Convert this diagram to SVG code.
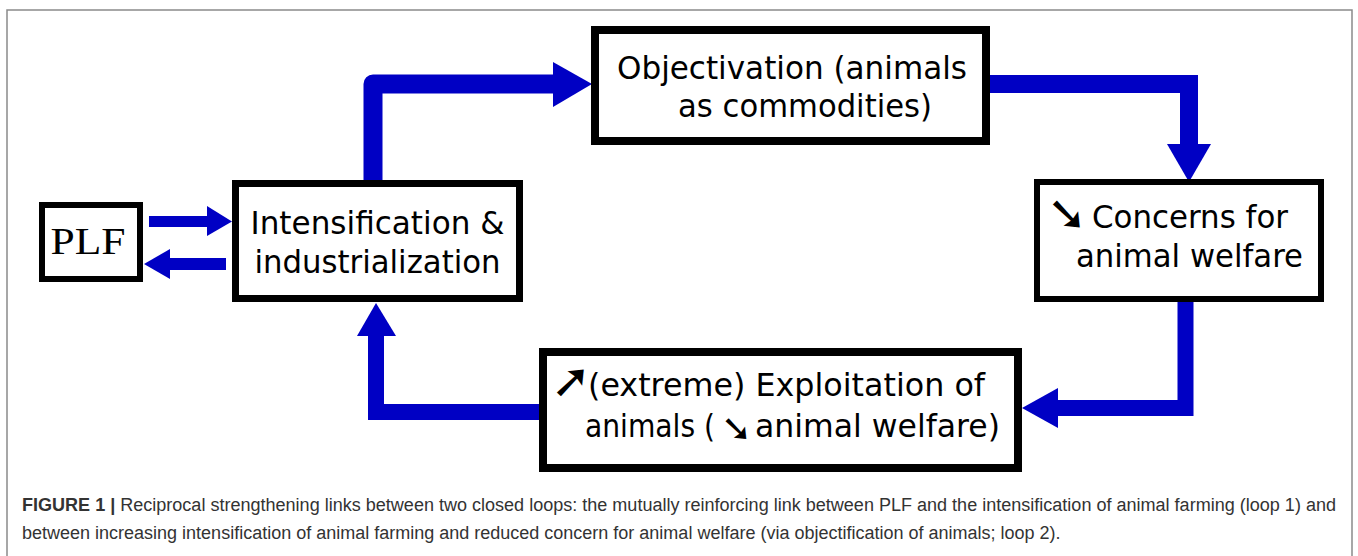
<svg xmlns="http://www.w3.org/2000/svg" width="1358" height="556" viewBox="0 0 1358 556">
<style>
.box{fill:#fff;stroke:#000;}
.t{font-family:"DejaVu Sans",sans-serif;font-size:32px;fill:#000;}
.ar{font-size:48px;}
.ar2{font-size:37px;}
.c{fill:none;stroke:#0000c4;}
.h{fill:#0000c4;}
.cap{font-family:"Liberation Sans",Arial,sans-serif;font-size:18px;fill:#333;}
</style>
<rect x="0" y="0" width="1358" height="556" fill="#fff"/>
<rect x="7" y="10" width="1345" height="620" fill="none" stroke="#8a8a8a" stroke-width="1.5"/>
<g id="connectors">
<path class="c" d="M373 180 V84 H554" stroke-width="19" stroke-linejoin="round"/>
<polygon class="h" points="553,62 592,84 553,107"/>
<path class="c" d="M990 84 H1189 V145" stroke-width="18"/>
<polygon class="h" points="1167,144 1211,144 1189,182"/>
<path class="c" d="M1185.5 302 V408 H1057" stroke-width="16"/>
<polygon class="h" points="1058,388 1058,428 1022,408"/>
<path class="c" d="M539 412 H376 V335" stroke-width="16"/>
<polygon class="h" points="357,336 396,336 376,303"/>
<path class="c" d="M149 221.5 H208" stroke-width="11"/>
<polygon class="h" points="207,206 207,236 232,221.5"/>
<path class="c" d="M226 264 H169" stroke-width="12"/>
<polygon class="h" points="170,249 170,279 144,264"/>
</g>
<g id="plf">
<rect class="box" x="42" y="205" width="98" height="74" stroke-width="6"/>
<text x="88" y="254" font-family="Liberation Serif,serif" font-size="38" text-anchor="middle" textLength="75" lengthAdjust="spacingAndGlyphs">PLF</text>
</g>
<g id="intensification">
<rect class="box" x="235.5" y="183.5" width="284" height="115" stroke-width="7"/>
<text class="t" x="377.5" y="234" text-anchor="middle" textLength="254" lengthAdjust="spacingAndGlyphs">Intensification &amp;</text>
<text class="t" x="377.5" y="273" text-anchor="middle" textLength="246" lengthAdjust="spacingAndGlyphs">industrialization</text>
</g>
<g id="objectivation">
<rect class="box" x="595" y="30" width="391" height="111" stroke-width="8"/>
<text class="t" x="792" y="79" text-anchor="middle" textLength="350" lengthAdjust="spacingAndGlyphs">Objectivation (animals</text>
<text class="t" x="805" y="117" text-anchor="middle" textLength="254" lengthAdjust="spacingAndGlyphs">as commodities)</text>
</g>
<g id="concerns">
<rect class="box" x="1037" y="182" width="284" height="117" stroke-width="6"/>
<text class="t" y="228"><tspan class="ar" x="1047" y="230">➘</tspan><tspan x="1092" y="228" textLength="196" lengthAdjust="spacingAndGlyphs">Concerns for</tspan></text>
<text class="t" x="1076" y="267" textLength="227" lengthAdjust="spacingAndGlyphs">animal welfare</text>
</g>
<g id="exploitation">
<rect class="box" x="543" y="352" width="475" height="116" stroke-width="8"/>
<text class="t" y="396"><tspan class="ar" x="551" y="397">➚</tspan><tspan x="588" y="396" textLength="397" lengthAdjust="spacingAndGlyphs">(extreme) Exploitation of</tspan></text>
<text class="t" y="437"><tspan x="585" textLength="130" lengthAdjust="spacingAndGlyphs">animals (</tspan><tspan class="ar2" x="721" y="441">➘</tspan><tspan x="755" y="437" textLength="245" lengthAdjust="spacingAndGlyphs">animal welfare)</tspan></text>
</g>
<g id="caption">
<text class="cap" x="22" y="511" textLength="1314" lengthAdjust="spacingAndGlyphs"><tspan font-weight="bold">FIGURE 1 | </tspan>Reciprocal strengthening links between two closed loops: the mutually reinforcing link between PLF and the intensification of animal farming (loop 1) and</text>
<text class="cap" x="22" y="539">between increasing intensification of animal farming and reduced concern for animal welfare (via objectification of animals; loop 2).</text>
</g>
</svg>
